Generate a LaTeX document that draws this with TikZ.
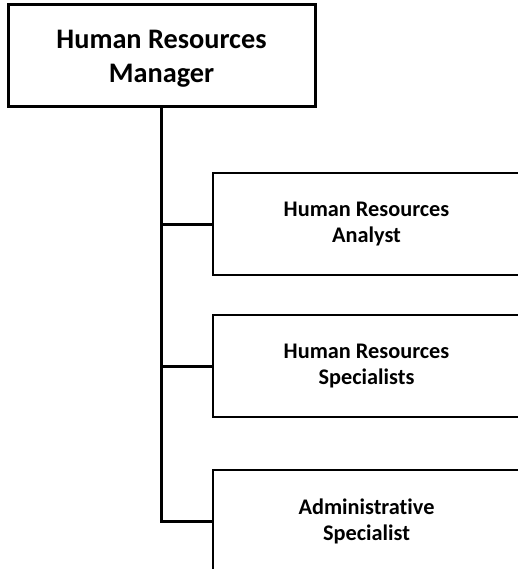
\documentclass[tikz,border=0pt]{standalone}
\usepackage{fontspec}
\setmainfont{Carlito}[Ligatures={NoCommon}]
\begin{document}
\begin{tikzpicture}[x=1pt,y=-1pt,
  topbox/.style={draw=black,line width=3pt,minimum width=307pt,minimum height=102pt,inner sep=0pt},
  toptext/.style={inner sep=0pt,align=center,font=\fontsize{28.3}{34}\selectfont\bfseries},
  childbox/.style={draw=black,line width=1.5pt,minimum width=307pt,minimum height=102pt,inner sep=0pt,align=center,font=\fontsize{22.3}{26}\selectfont\bfseries},
  conn/.style={draw=black,line width=3pt}]
\useasboundingbox (0,0) rectangle (517,569);
\node[topbox] (top) at (161.5,56) {};
\node[toptext] (toptxt) at (161.5,59) {Human Resources\\Manager};
\node[childbox] (a) at (366.5,224) {Human Resources\\Analyst};
\node[childbox] (b) at (366.5,366) {Human Resources\\Specialists};
\node[childbox] (c) at (366.5,521) {Administrative\\Specialist};
\draw[conn] (top.south) |- (c.west);
\draw[conn] (top.south |- a.west) -- (a.west);
\draw[conn] (top.south |- b.west) -- (b.west);
\end{tikzpicture}
\end{document}
